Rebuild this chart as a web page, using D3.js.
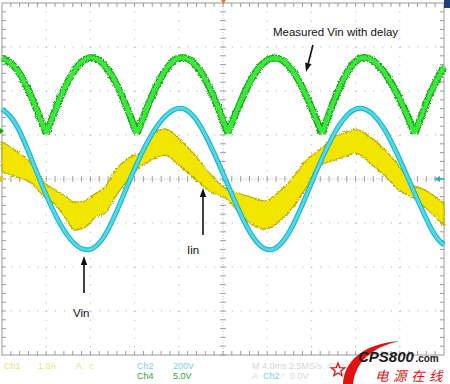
<!DOCTYPE html>
<html>
<head>
<meta charset="utf-8">
<script src="https://cdn.jsdelivr.net/npm/d3@7"></script>
<style>
  body { margin: 0; background: #fff; }
  svg { display: block; }
</style>
</head>
<body>
<div id="scope"></div>
<script>
// Scope colours
var cyanCore = "#4ddbea", cyanEdge = "#22b2c4";
var greenCore = "#3ee83e", greenEdge = "#1aa51a";
var yellowFill = "#f2e600", yellowEdge = "#b9aa00";
var gridGrey = "#a9a9a9";

// time in divisions (0..10), amplitude in divisions (-4..4)
// Ch2 Vin (cyan)
const cyanT = [0, 0.36, 0.84, 1.38, 1.92, 2.40, 2.90, 3.46, 4.03, 4.52, 5.05, 5.57, 6.06, 6.54, 7.04, 7.58, 8.10, 8.64, 9.19, 9.71, 10.0];
const cyanV = [1.59, 1.16, 0.02, -1.13, -1.61, -1.15, 0.00, 1.13, 1.61, 1.15, 0.01, -1.14, -1.61, -1.13, 0.00, 1.14, 1.61, 1.15, 0.01, -1.13, -1.50];

// Ch4 measured Vin with delay (green), cusps split the arches
const greenT = [0, 0.31, 0.65, 1.00, 1.34, 1.68, 2.02, 2.37, 2.71, 3.05, 3.40, 3.74, 4.08, 4.43, 4.77, 5.11, 5.47, 5.82, 6.18, 6.53, 6.88, 7.24, 7.56, 7.87, 8.20, 8.57, 8.96, 9.34, 9.68, 10.0];
const greenV = [2.75, 2.52, 1.90, 1.03, 1.90, 2.52, 2.76, 2.52, 1.90, 1.03, 1.90, 2.53, 2.76, 2.53, 1.91, 1.04, 1.92, 2.54, 2.75, 2.52, 1.90, 1.03, 1.90, 2.52, 2.76, 2.52, 1.90, 1.03, 1.92, 2.55];
const greenCusps = [1.00, 3.05, 5.11, 7.24, 9.34];

// Ch1 Iin (yellow): band centre and half width
const yellowT = [0, 0.29, 0.63, 0.97, 1.20, 1.43, 1.65, 1.88, 2.10, 2.33, 2.56, 2.90, 3.12, 3.35, 3.69, 4.03, 4.37, 4.71, 5.05, 5.27, 5.61, 5.95, 6.29, 6.63, 6.86, 7.19, 7.53, 7.87, 7.99, 8.33, 8.67, 9.00, 9.28, 9.57, 10.0];
const yellowMid = [0.50, 0.36, 0.16, -0.25, -0.41, -0.64, -0.84, -0.80, -0.61, -0.48, -0.11, 0.27, 0.43, 0.68, 0.84, 0.59, 0.27, -0.09, -0.32, -0.48, -0.70, -0.82, -0.61, -0.25, 0.09, 0.48, 0.70, 0.82, 0.86, 0.66, 0.36, 0.00, -0.27, -0.45, -0.80];
const yellowHalf = [0.34, 0.30, 0.23, 0.16, 0.16, 0.25, 0.32, 0.30, 0.27, 0.30, 0.30, 0.23, 0.16, 0.27, 0.30, 0.30, 0.27, 0.20, 0.11, 0.18, 0.30, 0.32, 0.34, 0.34, 0.32, 0.18, 0.27, 0.27, 0.27, 0.30, 0.30, 0.27, 0.14, 0.20, 0.25];

// readout text
const readoutRow1 = [
  { text: "Ch1", x: 4, color: "#e6df78" },
  { text: "1.0A", x: 38, color: "#e6df78" },
  { text: "A", x: 76, color: "#e6df78" },
  { text: "c", x: 89, color: "#e6df78" },
  { text: "Ch2", x: 137, color: "#7ccfdf" },
  { text: "200V", x: 173, color: "#7ccfdf" },
  { text: "M 4.0ms 2.5MS/s", x: 252, color: "#d6d6d6" },
  { text: "400ns/pt", x: 327, color: "#d6d6d6", len: 28 }
];
const readoutRow2 = [
  { text: "Ch4", x: 137, color: "#3a9f3a" },
  { text: "5.0V", x: 173, color: "#3a9f3a" },
  { text: "A", x: 252, color: "#d6d6d6" },
  { text: "Ch2", x: 263, color: "#79cde0" },
  { text: "\u2044", x: 282, color: "#d6d6d6" },
  { text: "0.0V", x: 290, color: "#d6d6d6" }
];

const svg = d3.select("#scope").append("svg")
  .attr("width", 450)
  .attr("height", 384);

// graticule 10 x 8 divisions
const x = d3.scaleLinear().domain([0, 10]).range([2, 444]);
const y = d3.scaleLinear().domain([-4, 4]).range([355, 3]);

const defs = svg.append("defs");
const rough = defs.append("filter").attr("id", "rough")
  .attr("x", "-2%").attr("y", "-10%").attr("width", "104%").attr("height", "120%");
rough.append("feTurbulence").attr("type", "fractalNoise").attr("baseFrequency", "0.8")
  .attr("numOctaves", 2).attr("seed", 4).attr("result", "noise");
rough.append("feDisplacementMap").attr("in", "SourceGraphic").attr("in2", "noise")
  .attr("scale", 3.5).attr("xChannelSelector", "R").attr("yChannelSelector", "G");

const grid = svg.append("g");

// dotted division lines
grid.selectAll(".vdiv")
  .data(d3.range(1, 10).filter(d => d !== 5))
  .enter().append("line")
  .attr("x1", d => x(d)).attr("x2", d => x(d))
  .attr("y1", y(4)).attr("y2", y(-4))
  .attr("stroke", gridGrey).attr("stroke-dasharray", "1,7.8");
grid.selectAll(".hdiv")
  .data(d3.range(-3, 4).filter(d => d !== 0))
  .enter().append("line")
  .attr("x1", x(0)).attr("x2", x(10))
  .attr("y1", d => y(d)).attr("y2", d => y(d))
  .attr("stroke", gridGrey).attr("stroke-dasharray", "1,7.84");

// centre axes with minor ticks
grid.append("line").attr("x1", x(5)).attr("x2", x(5)).attr("y1", y(4)).attr("y2", y(-4))
  .attr("stroke", "#b4b4b4").attr("stroke-dasharray", "1,1.9");
grid.append("line").attr("x1", x(0)).attr("x2", x(10)).attr("y1", y(0)).attr("y2", y(0))
  .attr("stroke", "#b4b4b4").attr("stroke-dasharray", "1,1.9");
grid.selectAll(".cxt")
  .data(d3.range(0, 50).map(d => d / 5))
  .enter().append("line")
  .attr("x1", d => x(d)).attr("x2", d => x(d))
  .attr("y1", y(0) - 3).attr("y2", y(0) + 3)
  .attr("stroke", "#a0a0a0");
grid.selectAll(".cyt")
  .data(d3.range(-20, 20).map(d => d / 5))
  .enter().append("line")
  .attr("x1", x(5) - 3).attr("x2", x(5) + 3)
  .attr("y1", d => y(d)).attr("y2", d => y(d))
  .attr("stroke", "#a0a0a0");

// border with inward ticks
grid.append("rect")
  .attr("x", x(0)).attr("y", y(4))
  .attr("width", x(10) - x(0)).attr("height", y(-4) - y(4))
  .attr("fill", "none").attr("stroke", "#9a9a9a");
const xMinor = d3.range(1, 50).map(d => d / 5);
const yMinor = d3.range(-19, 20).map(d => d / 5);
grid.selectAll(".bt").data(xMinor).enter().append("line")
  .attr("x1", d => x(d)).attr("x2", d => x(d))
  .attr("y1", y(4)).attr("y2", y(4) + 4).attr("stroke", "#9a9a9a");
grid.selectAll(".bb").data(xMinor).enter().append("line")
  .attr("x1", d => x(d)).attr("x2", d => x(d))
  .attr("y1", y(-4)).attr("y2", y(-4) - 4).attr("stroke", "#9a9a9a");
grid.selectAll(".bl").data(yMinor).enter().append("line")
  .attr("x1", x(0)).attr("x2", x(0) + 4)
  .attr("y1", d => y(d)).attr("y2", d => y(d)).attr("stroke", "#9a9a9a");
grid.selectAll(".br").data(yMinor).enter().append("line")
  .attr("x1", x(10)).attr("x2", x(10) - 4)
  .attr("y1", d => y(d)).attr("y2", d => y(d)).attr("stroke", "#9a9a9a");

// line generators
const traceLine = d3.line()
  .x(d => x(d.t))
  .y(d => y(d.v))
  .curve(d3.curveNatural);

const bandArea = d3.area()
  .x(d => x(d.t))
  .y0(d => y(d.m - d.h))
  .y1(d => y(d.m + d.h))
  .curve(d3.curveMonotoneX);

// green trace, one arch between cusps
const greenPts = greenT.map((t, i) => ({ t: t, v: greenV[i] }));
const bounds = [0].concat(greenCusps).concat([10]);
const arches = d3.range(bounds.length - 1).map(i =>
  greenPts.filter(p => p.t >= bounds[i] && p.t <= bounds[i + 1]));
const greenG = svg.append("g").attr("filter", "url(#rough)");
greenG.selectAll(".ge").data(arches).enter().append("path")
  .attr("d", traceLine).attr("fill", "none")
  .attr("stroke", greenEdge).attr("stroke-width", 7).attr("stroke-linejoin", "miter");
greenG.selectAll(".gc").data(arches).enter().append("path")
  .attr("d", traceLine).attr("fill", "none")
  .attr("stroke", greenCore).attr("stroke-width", 4.5);

// yellow current band
const yellowPts = yellowT.map((t, i) => ({ t: t, m: yellowMid[i], h: yellowHalf[i] }));
const yellowG = svg.append("g").attr("filter", "url(#rough)");
yellowG.append("path")
  .datum(yellowPts)
  .attr("d", bandArea)
  .attr("fill", yellowFill)
  .attr("stroke", yellowEdge)
  .attr("stroke-width", 1.2);

// cyan Vin trace
const cyanPts = cyanT.map((t, i) => ({ t: t, v: cyanV[i] }));
svg.append("path").datum(cyanPts)
  .attr("d", traceLine).attr("fill", "none")
  .attr("stroke", cyanEdge).attr("stroke-width", 5);
svg.append("path").datum(cyanPts)
  .attr("d", traceLine).attr("fill", "none")
  .attr("stroke", cyanCore).attr("stroke-width", 2.8);

// channel markers
svg.append("path").attr("d", "M0,128 L4,131 L0,134 Z").attr("fill", greenEdge);
svg.append("path").attr("d", "M0,176 L4,179 L0,182 Z").attr("fill", "#d8cc00");
svg.append("path").attr("d", "M221,0 L226,0 L223.5,4 Z").attr("fill", "#e87a2a");
svg.append("rect").attr("x", 444).attr("y", 0).attr("width", 6).attr("height", 8).attr("fill", "#1d3f7a");
svg.append("path").attr("d", "M434,179 L440,176 L440,182 Z").attr("fill", cyanEdge);
svg.append("line").attr("x1", 438).attr("x2", 444).attr("y1", 179).attr("y2", 179)
  .attr("stroke", cyanEdge).attr("stroke-width", 1.5);

// annotations
function arrow(x1, y1, x2, y2) {
  const a = Math.atan2(y2 - y1, x2 - x1);
  const len = 9, half = 3.2;
  const bx = x2 - len * Math.cos(a), by = y2 - len * Math.sin(a);
  svg.append("line").attr("x1", x1).attr("y1", y1).attr("x2", bx).attr("y2", by)
    .attr("stroke", "#111").attr("stroke-width", 1.6);
  svg.append("path")
    .attr("d", `M${x2},${y2} L${bx - half * Math.sin(a)},${by + half * Math.cos(a)} L${bx + half * Math.sin(a)},${by - half * Math.cos(a)} Z`)
    .attr("fill", "#111");
}
arrow(313, 45, 306, 72);
arrow(84, 293, 84, 256);
arrow(203, 235, 203, 188);

svg.append("text").text("Measured Vin with delay")
  .attr("x", 273).attr("y", 36)
  .attr("font-family", "Liberation Sans, Arial, sans-serif")
  .attr("font-size", 11.5).attr("fill", "#111");
svg.append("text").text("Vin")
  .attr("x", 73).attr("y", 317)
  .attr("font-family", "Liberation Sans, Arial, sans-serif")
  .attr("font-size", 11.5).attr("fill", "#111");
svg.append("text").text("Iin")
  .attr("x", 187).attr("y", 254)
  .attr("font-family", "Liberation Sans, Arial, sans-serif")
  .attr("font-size", 11.5).attr("fill", "#111");

// readout rows
svg.selectAll(".r1").data(readoutRow1).enter().append("text")
  .text(d => d.text).attr("x", d => d.x).attr("y", 368.5)
  .attr("textLength", d => d.len || null)
  .attr("lengthAdjust", "spacingAndGlyphs")
  .attr("font-family", "Liberation Sans, Arial, sans-serif")
  .attr("font-size", 9).attr("fill", d => d.color);
svg.selectAll(".r2").data(readoutRow2).enter().append("text")
  .text(d => d.text).attr("x", d => d.x).attr("y", 378.5)
  .attr("font-family", "Liberation Sans, Arial, sans-serif")
  .attr("font-size", 9).attr("fill", d => d.color);

// site watermark
const logo = svg.append("g");
logo.append("path")
  .attr("d", "M343,384 C344,362 362,344 399,341 C370,348 356,362 353,384 Z")
  .attr("fill", "#e01212");
const star = d3.range(10).map(i => {
  const r = i % 2 === 0 ? 7 : 3;
  const a = -Math.PI / 2 + i * Math.PI / 5;
  return [338 + r * Math.cos(a), 370 + r * Math.sin(a)];
});
logo.append("path").attr("d", "M" + star.join("L") + "Z")
  .attr("fill", "#fff").attr("stroke", "#e01212").attr("stroke-width", 1.3);
const cps = logo.append("text").text("CPS800")
  .attr("x", 358).attr("y", 362)
  .attr("font-family", "Liberation Sans, Arial, sans-serif")
  .attr("font-weight", "bold").attr("font-style", "italic")
  .attr("font-size", 15).attr("fill", "#1b1b1b");
const cpsEnd = 358 + cps.node().getComputedTextLength();
logo.append("text").text(".com")
  .attr("x", cpsEnd + 1.5).attr("y", 362)
  .attr("font-family", "Liberation Sans, Arial, sans-serif")
  .attr("font-weight", "bold")
  .attr("font-size", 10).attr("fill", "#1b1b1b");
logo.append("text").text("电源在线")
  .attr("x", 375).attr("y", 381)
  .attr("font-family", "Noto Sans CJK SC, sans-serif")
  .attr("font-style", "italic").attr("letter-spacing", 4.5)
  .attr("font-size", 13.5).attr("fill", "#e01212");
</script>
</body>
</html>
